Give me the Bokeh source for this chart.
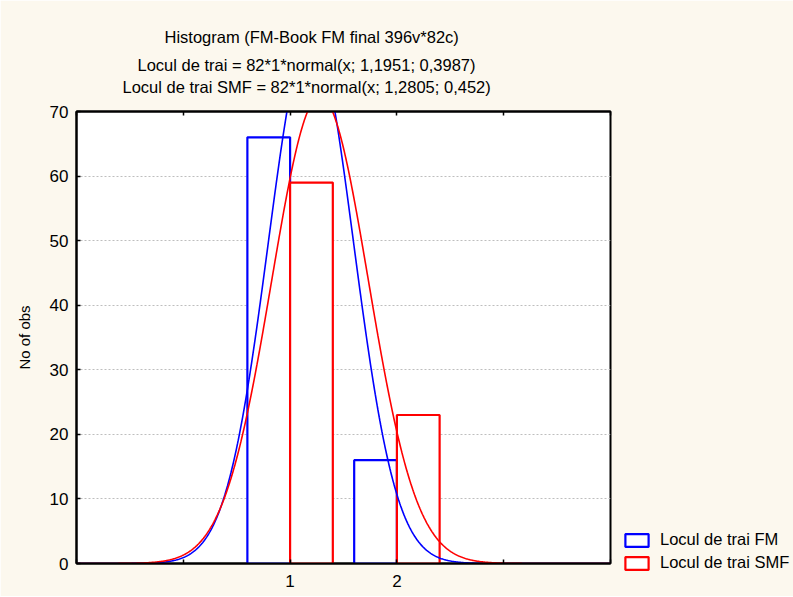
import numpy as np
from bokeh.plotting import figure
from bokeh.models import (Range1d, FixedTicker, LinearAxis, Legend, LegendItem, Title)
from bokeh.embed import file_html
from bokeh.resources import INLINE

# ---- data ----
bin_categories = [1, 2]
counts_fm = [66, 16]     # Locul de trai FM
counts_smf = [59, 23]    # Locul de trai SMF
n_obs = 82
fm_mean, fm_sd = 1.1951, 0.3987
smf_mean, smf_sd = 1.2805, 0.452
x_tick_values = [-1, 0, 1, 2, 3, 4]
x_tick_labels = {-1: "", 0: "", 1: "1", 2: "2", 3: "", 4: ""}
y_tick_values = [0, 10, 20, 30, 40, 50, 60, 70]

title_lines = [
    "Histogram (FM-Book FM final 396v*82c)",
    "Locul de trai = 82*1*normal(x; 1,1951; 0,3987)",
    "Locul de trai SMF = 82*1*normal(x; 1,2805; 0,452)",
]
legend_labels = ["Locul de trai FM", "Locul de trai SMF"]

CREAM = "#FCF8EE"
BLUE = "#0000FF"
RED = "#FF0000"
FONT = "Liberation Sans"

p = figure(frame_width=534, frame_height=452, output_backend="svg", toolbar_location=None,
           x_range=Range1d(-1, 4), y_range=Range1d(0, 70),
           min_border_left=76, min_border_right=170, min_border_top=111,
           min_border_bottom=33, x_axis_location=None, y_axis_location=None)
p.background_fill_color = "white"
p.border_fill_color = CREAM
p.outline_line_color = "black"
p.outline_line_width = 2

bottom = LinearAxis(ticker=FixedTicker(ticks=x_tick_values), major_label_overrides=x_tick_labels)
left = LinearAxis(ticker=FixedTicker(ticks=y_tick_values), axis_label="No of obs")
top = LinearAxis(ticker=FixedTicker(ticks=x_tick_values),
                 major_label_overrides={t: "" for t in x_tick_values})
for ax in (bottom, left, top):
    ax.axis_line_color = "black"
    ax.axis_line_width = 2
    ax.major_tick_in = 4
    ax.major_tick_out = 0
    ax.major_tick_line_width = 1.5
    ax.minor_tick_line_color = None
    ax.major_label_text_font = FONT
    ax.major_label_text_color = "black"
    ax.major_label_text_font_size = "17px"
bottom.major_label_standoff = 11
left.major_label_standoff = 8
top.major_label_standoff = 0
left.axis_label_text_font = FONT
left.axis_label_text_font_size = "15px"
left.axis_label_text_font_style = "normal"
left.axis_label_text_color = "black"
left.axis_label_standoff = 14
p.add_layout(bottom, "below")
p.add_layout(left, "left")
p.add_layout(top, "above")

# title lines, stacked outward from the frame (closest first)
t3 = Title(text=title_lines[2] + "\n", align="left", offset=46, standoff=1,
           vertical_align="top", text_line_height=0.72)
t2 = Title(text=title_lines[1], align="left", offset=61, standoff=7)
t1 = Title(text=title_lines[0], align="left", offset=88, standoff=9)
for t in (t3, t2, t1):
    t.text_font = FONT
    t.text_font_size = "16.5px"
    t.text_font_style = "normal"
    t.text_color = "black"
    p.add_layout(t, "above")

p.xgrid.visible = False
p.ygrid.ticker = FixedTicker(ticks=y_tick_values)
p.ygrid.grid_line_color = "#BEBEBE"
p.ygrid.grid_line_dash = "2 2"
p.ygrid.grid_line_width = 1

# bars: FM on the left half, SMF on the right half of each category
bw = 0.4
cats = np.array(bin_categories, dtype=float)
bars_fm = p.quad(left=cats - bw, right=cats, bottom=0, top=counts_fm,
                 fill_color="white", line_color=BLUE, line_width=2.2)
bars_smf = p.quad(left=cats, right=cats + bw, bottom=0, top=counts_smf,
                  fill_color="white", line_color=RED, line_width=2.2)

# fitted normal curves from the parameters in the title
xs = np.linspace(-1, 4, 800)
def normal_curve(x, m, s):
    return n_obs * 1 * np.exp(-0.5 * ((x - m) / s) ** 2) / (s * np.sqrt(2 * np.pi))
p.line(xs, normal_curve(xs, fm_mean, fm_sd), line_color=BLUE, line_width=1.6)
p.line(xs, normal_curve(xs, smf_mean, smf_sd), line_color=RED, line_width=1.6)

legend = Legend(items=[LegendItem(label=legend_labels[0], renderers=[bars_fm], index=0),
                       LegendItem(label=legend_labels[1], renderers=[bars_smf], index=0)],
                location=(12, -9), orientation="vertical",
                glyph_width=29, glyph_height=16, spacing=4, padding=0, margin=0,
                label_text_font=FONT, label_text_font_size="16.5px", label_standoff=9,
                label_text_color="black",
                border_line_color=None, background_fill_alpha=0)
p.add_layout(legend, "right")

open("out.html", "w").write(file_html(p, INLINE))
